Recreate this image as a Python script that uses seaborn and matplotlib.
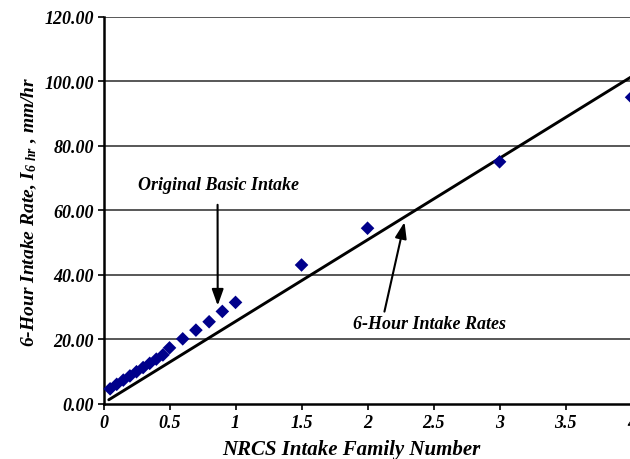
import numpy as np
import pandas as pd
import seaborn as sns
from matplotlib import pyplot as plt

family = [0.05, 0.1, 0.15, 0.2, 0.25, 0.3, 0.35, 0.4, 0.45, 0.5,
          0.6, 0.7, 0.8, 0.9, 1.0, 1.5, 2.0, 3.0, 4.0]
basic_intake = [4.7, 6.1, 7.4, 8.7, 10.0, 11.3, 12.6, 13.9, 15.2, 17.4,
                20.2, 22.9, 25.5, 28.7, 31.5, 43.1, 54.5, 75.1, 95.1]
line_family = [0.04, 4.0]
line_rate = [1.3, 101.5]
yticks = [0, 20, 40, 60, 80, 100, 120]
xticks = [0, 0.5, 1, 1.5, 2, 2.5, 3, 3.5, 4]

sns.set_style("white")
plt.rcParams['font.family'] = ['Liberation Serif', 'DejaVu Serif']
plt.rcParams['text.color'] = 'black'
plt.rcParams['xtick.color'] = 'black'
plt.rcParams['ytick.color'] = 'black'
plt.rcParams['axes.labelcolor'] = 'black'
plt.rcParams['mathtext.fontset'] = 'custom'
plt.rcParams['mathtext.rm'] = 'Liberation Serif:bold:italic'
plt.rcParams['mathtext.it'] = 'Liberation Serif:bold:italic'
plt.rcParams['mathtext.default'] = 'rm'

df = pd.DataFrame({'family': family, 'rate': basic_intake})
df_line = pd.DataFrame({'family': line_family, 'rate': line_rate})

fig = plt.figure(figsize=(6.3, 4.6), dpi=100)
ax = fig.add_axes([0.1643, 0.1196, 0.943, 0.8413])

for y in yticks[1:]:
    ax.axhline(y, color='#4a4a4a', lw=1.3, zorder=0)

sns.lineplot(data=df_line, x='family', y='rate', color='black', lw=2.1, ax=ax, zorder=2)
sns.scatterplot(data=df, x='family', y='rate', marker='D', s=48, color='#00008B',
                edgecolor='none', ax=ax, zorder=3, clip_on=False)

ax.set_xlim(0, 4.5)
ax.set_ylim(0, 120)
ax.set_xticks(xticks)
ax.set_xticklabels(['0', '0.5', '1', '1.5', '2', '2.5', '3', '3.5', '4'])
ax.set_yticks(yticks)
ax.set_yticklabels([f'{v:.2f}' for v in yticks])
for lab in ax.get_xticklabels() + ax.get_yticklabels():
    lab.set_fontweight('bold')
    lab.set_fontstyle('italic')
    lab.set_fontsize(13)
ax.tick_params(axis='both', direction='out', length=4, width=1.2, color='black', pad=3, bottom=True, left=True)

for side in ['top', 'right']:
    ax.spines[side].set_visible(False)
for side in ['left', 'bottom']:
    ax.spines[side].set_color('black')
    ax.spines[side].set_linewidth(1.8)

ax.set_xlabel('NRCS Intake Family Number', fontsize=15, fontweight='bold', style='italic')
ax.xaxis.set_label_coords(0.4166, -0.09)
ax.set_ylabel(r'6-Hour Intake Rate, I$_{6\ hr}$ , mm/hr', fontsize=14, fontweight='bold',
              style='italic')
ax.yaxis.set_label_coords(-0.108, 0.50)

ax.annotate('Original Basic Intake', xy=(0.865, 30.5), xytext=(0.87, 68),
            ha='center', va='center', fontsize=13, fontweight='bold', style='italic',
            arrowprops=dict(arrowstyle='-|>,head_length=0.7,head_width=0.25', color='black', lw=1.5,
                            mutation_scale=14, shrinkA=6, shrinkB=0, relpos=(0.495, 0.0)))
ax.annotate('6-Hour Intake Rates', xy=(2.28, 56.4), xytext=(2.47, 25),
            ha='center', va='center', fontsize=13, fontweight='bold', style='italic',
            arrowprops=dict(arrowstyle='-|>,head_length=0.7,head_width=0.25', color='black', lw=1.5,
                            mutation_scale=14, shrinkA=0, shrinkB=0, relpos=(0.2, 1.0)))

plt.savefig('out.png', dpi=100)
